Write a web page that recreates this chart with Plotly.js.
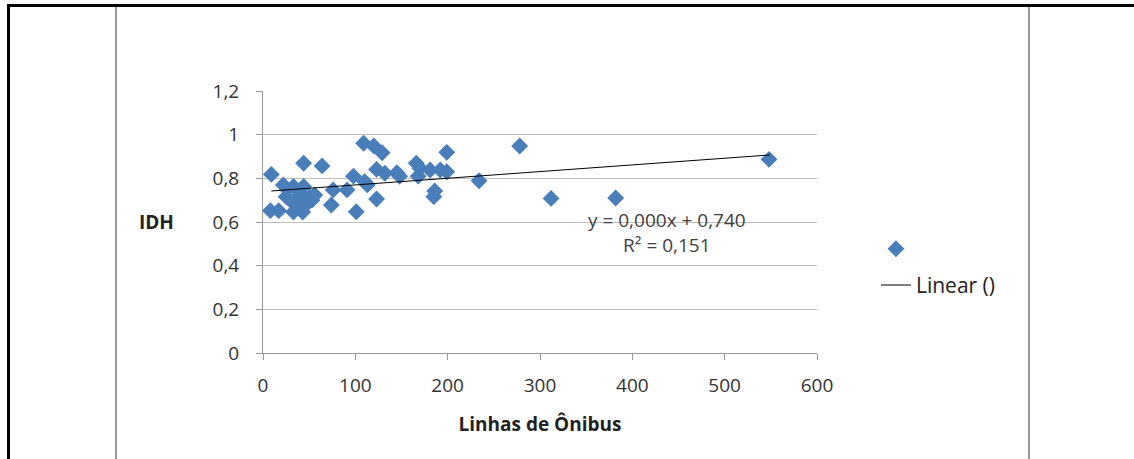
<!DOCTYPE html>
<html>
<head>
<meta charset="utf-8">
<script src="https://cdn.plot.ly/plotly-3.0.1.min.js"></script>
<style>
  html, body { margin: 0; padding: 0; background: #fff; }
  #wrap { position: relative; width: 1134px; height: 459px; overflow: hidden; }
  #chart { position: absolute; left: 0; top: 0; width: 1134px; height: 459px; }
  .fr { position: absolute; pointer-events: none; }
</style>
</head>
<body>
<div id="wrap">
  <div id="chart"></div>
  <div class="fr" style="left:7px; top:4px; width:1127px; height:3px; background:#000;"></div>
  <div class="fr" style="left:7px; top:4px; width:3px; height:455px; background:#000;"></div>
  <div class="fr" style="left:115px; top:7px; width:2px; height:452px; background:#999;"></div>
  <div class="fr" style="left:1028px; top:7px; width:2px; height:452px; background:#999;"></div>
</div>
<script>
// Linhas de Ônibus (x) vs IDH (y)
const linhas = [9, 8, 17, 22, 26, 33, 43, 44, 64, 74, 76, 91, 98, 101, 109, 110, 113, 120, 123, 123, 129, 132, 145, 148, 166, 168, 170, 181, 185, 186, 192, 199, 199, 234, 278, 312, 382, 548, 25, 33, 33, 38, 40, 44, 46, 51, 53, 56];
const idh    = [0.818, 0.652, 0.652, 0.77, 0.75, 0.646, 0.646, 0.869, 0.857, 0.678, 0.747, 0.747, 0.81, 0.647, 0.961, 0.785, 0.77, 0.948, 0.841, 0.705, 0.917, 0.823, 0.826, 0.809, 0.869, 0.81, 0.846, 0.838, 0.716, 0.742, 0.838, 0.919, 0.83, 0.789, 0.948, 0.708, 0.71, 0.887, 0.716, 0.686, 0.763, 0.70, 0.724, 0.763, 0.678, 0.716, 0.70, 0.724];
// Linear trendline (as drawn by the spreadsheet)
const trendX = [9, 549];
const trendY = [0.742, 0.907];
const eqText = "y = 0,000x + 0,740";
const r2Text = "R² = 0,151";
const xTicks = [0, 100, 200, 300, 400, 500, 600];
const yTicks = [0, 0.2, 0.4, 0.6, 0.8, 1, 1.2];
const yTickText = ["0", "0,2", "0,4", "0,6", "0,8", "1", "1,2"];

const font = "'Open Sans', Lato, sans-serif";

const traces = [
  {
    x: linhas, y: idh, type: "scatter", mode: "markers", name: " ",
    marker: { symbol: "diamond", size: 13, color: "#4a7ebb", line: { width: 0 } },
    legendgroup: "a"
  },
  {
    x: trendX, y: trendY, type: "scatter", mode: "lines", name: "Linear ()",
    line: { color: "#000", width: 1 },
    legendgroup: "b"
  }
];

const layout = {
  width: 1134, height: 459,
  margin: { l: 263, r: 317, t: 91, b: 106 },
  paper_bgcolor: "#fff", plot_bgcolor: "#fff",
  separators: ",.",
  font: { family: font, size: 19, color: "#333" },
  showlegend: true,
  legend: {
    x: 1.1064, y: 0.475, xanchor: "left", yanchor: "top",
    font: { family: font, size: 21, color: "#222" },
    traceorder: "grouped", tracegroupgap: 6,
    bgcolor: "rgba(0,0,0,0)"
  },
  xaxis: {
    range: [0, 600], tickvals: xTicks, ticktext: xTicks.map(String),
    showgrid: false, zeroline: false,
    showline: true, linecolor: "#999", linewidth: 1,
    ticks: "outside", ticklen: 6, tickcolor: "#999",
    ticklabelstandoff: 9,
    tickfont: { family: font, size: 19, color: "#333" },
    title: { text: "Linhas de Ônibus", font: { family: font, size: 19, color: "#222", weight: "bold" }, standoff: 20 }
  },
  yaxis: {
    range: [0, 1.2], tickvals: yTicks, ticktext: yTickText,
    showgrid: true, gridcolor: "#bdbdbd", gridwidth: 1,
    zeroline: false,
    showline: true, linecolor: "#999", linewidth: 1,
    ticks: "outside", ticklen: 6, tickcolor: "#999",
    ticklabelstandoff: 13,
    tickfont: { family: font, size: 19, color: "#333" }
  },
  annotations: [
    { text: "<b>IDH</b>", xref: "paper", yref: "paper", x: -0.193, y: 0.5, showarrow: false,
      xanchor: "center", yanchor: "middle", font: { family: font, size: 19, color: "#222" } },
    { text: eqText + "<br>" + r2Text, xref: "x", yref: "y", x: 437.5, y: 0.554, showarrow: false,
      align: "center", xanchor: "center", yanchor: "middle", font: { family: font, size: 19, color: "#404040" } }
  ]
};

Plotly.newPlot("chart", traces, layout, { displayModeBar: false, staticPlot: true });
</script>
</body>
</html>
